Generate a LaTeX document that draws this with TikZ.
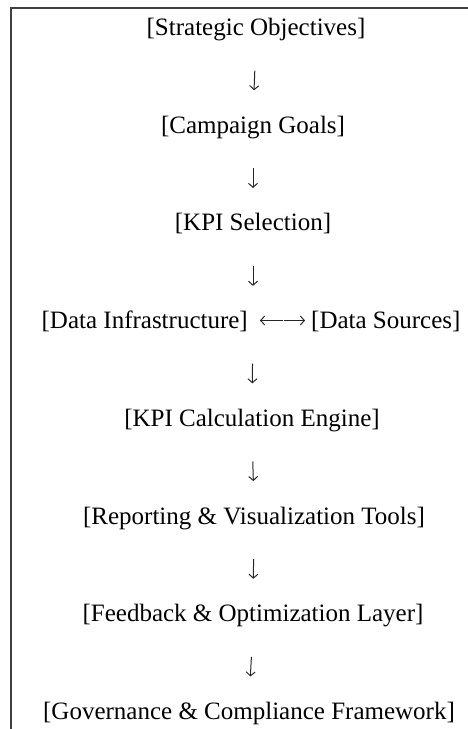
\documentclass[tikz,border=0pt]{standalone}
\usepackage{fontspec}
\setmainfont{Liberation Serif}
\usetikzlibrary{arrows.meta}
\tikzset{
  lbl/.style={inner sep=0pt, text height=17bp, text depth=5bp, font=\fontsize{25bp}{30bp}\selectfont},
  arr/.style={line width=1bp, black!85, -{Straight Barb[length=4bp,width=9bp,line width=1bp]}},
  downarr/.style={arr, shorten <=30bp, shorten >=25.7bp},
  frameline/.style={line width=1.2bp, black!75}
}
\begin{document}
\begin{tikzpicture}[x=1bp,y=-1bp]
\useasboundingbox (0,0) rectangle (468,729);
\draw[frameline] (11,729) -- (11,8) -- (468,8);
\node[lbl] (r0) at (256,29.5) {[Strategic Objectives]};
\node[lbl] (r1) at (253,127.2) {[Campaign Goals]};
\node[lbl] (r2) at (253,224.9) {[KPI Selection]};
\coordinate (dm) at (253,322.6);
\node[lbl, anchor=east] (di) at (248,322.6) {[Data Infrastructure]};
\node[lbl, anchor=west] (ds) at (311,322.6) {[Data Sources]};
\coordinate (hm) at (283.5,320.5);
\node[lbl] (r4) at (252,420.3) {[KPI Calculation Engine]};
\node[lbl] (r5) at (254,518) {[Reporting \& Visualization Tools]};
\node[lbl] (r6) at (253,615.7) {[Feedback \& Optimization Layer]};
\node[lbl] (r7) at (249,713.4) {[Governance \& Compliance Framework]};
\draw[downarr] (r0.south) -- (r1.north);
\draw[downarr] (r1.south) -- (r2.north);
\draw[arr, shorten <=30bp, shorten >=36.7bp] (r2.south) -- (dm);
\draw[arr, shorten <=41bp, shorten >=25.7bp] (dm) -- (r4.north);
\draw[downarr] (r4.south) -- (r5.north);
\draw[downarr] (r5.south) -- (r6.north);
\draw[downarr] (r6.south) -- (r7.north);
\draw[arr, shorten <=0.6bp, shorten >=12bp] (hm) -- (di.east |- hm);
\draw[arr, shorten <=0.6bp, shorten >=6bp] (hm) -- (ds.west |- hm);
\end{tikzpicture}
\end{document}
